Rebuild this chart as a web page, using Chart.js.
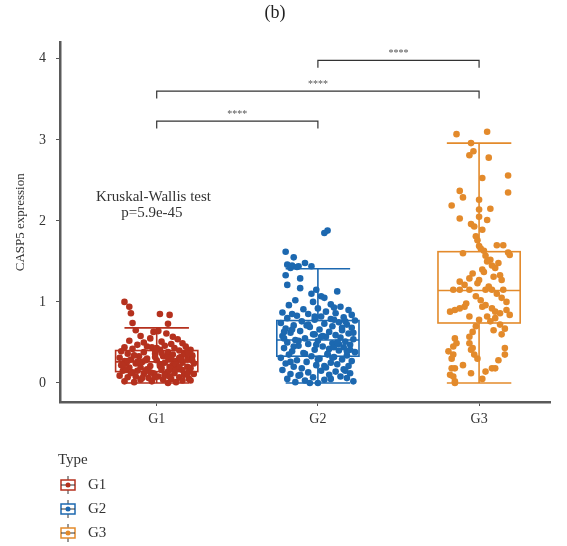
<!DOCTYPE html>
<html>
<head>
<meta charset="utf-8">
<script src="https://cdn.jsdelivr.net/npm/chart.js@4"></script>
<style>
  body { margin: 0; background: #fff; }
  #wrap { width: 567px; height: 546px; }
</style>
</head>
<body>
<div id="wrap"><canvas id="caspChart"></canvas></div>
<script>
var groups = ['G1', 'G2', 'G3'];
var groupColors = ['#B5311E', '#1C68B0', '#E38A2B'];

// box statistics per group
var boxLow = [0, 0, 0];
var boxQ1 = [0.14, 0.33, 0.74];
var boxMedian = [0.26, 0.53, 1.14];
var boxQ3 = [0.40, 0.77, 1.62];
var boxHigh = [0.68, 1.41, 2.96];

// pairwise comparisons
var compFrom = [1, 1, 2];
var compTo = [2, 3, 3];
var compY = [3.23, 3.60, 3.98];
var compLabel = ['****', '****', '****'];

var yTicks = [0, 1, 2, 3, 4];

// CASP5 expression per sample, with horizontal jitter
var g1Values = [1.00,0.94,0.86,0.85,0.84,0.74,0.73,0.65,0.63,0.64,
  0.61,0.58,0.57,0.55,0.54,0.52,0.51,0.50,0.49,0.48,
  0.47,0.46,0.45,0.44,0.44,0.43,0.42,0.41,0.41,0.40,
  0.39,0.38,0.38,0.37,0.36,0.36,0.35,0.34,0.33,0.33,
  0.32,0.31,0.30,0.30,0.29,0.29,0.28,0.27,0.27,0.26,
  0.25,0.25,0.24,0.24,0.23,0.22,0.22,0.21,0.20,0.20,
  0.19,0.19,0.18,0.18,0.17,0.16,0.16,0.15,0.15,0.14,
  0.14,0.13,0.12,0.12,0.11,0.11,0.10,0.10,0.09,0.08,
  0.08,0.07,0.07,0.06,0.05,0.05,0.04,0.04,0.03,0.02,
  0.02,0.01,0.01,0.00,0.35,0.28,0.21,0.31,0.26,0.18,
  0.13,0.09,0.24,0.33,0.40,0.17,0.06,0.29,0.22,0.37,
  0.43,0.39,0.34,0.31,0.27,0.23,0.19,0.15,0.11,0.07,
  0.03,0.45,0.36,0.25,0.16,0.08,0.32,0.20,0.12,0.28];
var g1Jitter = [-0.20,-0.17,-0.16,0.02,0.08,-0.15,0.07,-0.13,-0.02,0.01,
  0.06,-0.10,0.10,-0.04,0.13,-0.17,0.03,-0.08,0.16,0.09,
  -0.12,0.05,0.18,-0.20,-0.03,0.11,-0.15,0.02,0.21,0.14,
  -0.22,-0.08,0.07,0.17,-0.18,-0.01,0.10,0.22,-0.11,0.04,
  0.15,-0.23,-0.06,0.09,0.19,-0.16,0.00,0.12,-0.20,-0.09,
  0.05,0.16,0.23,-0.13,0.02,0.10,-0.22,-0.04,0.08,0.19,
  -0.17,-0.10,0.13,0.21,-0.06,0.03,0.16,-0.21,-0.12,0.07,
  0.20,-0.15,-0.02,0.11,0.23,-0.08,0.05,0.17,-0.23,-0.13,
  0.01,0.14,-0.18,-0.05,0.09,0.20,-0.10,0.04,0.16,-0.20,
  -0.03,0.12,-0.14,0.07,0.18,-0.07,0.02,0.14,-0.12,0.09,
  -0.04,0.05,-0.19,0.22,-0.01,0.12,-0.09,0.15,-0.21,0.03,
  0.00,0.19,-0.14,0.07,-0.18,0.12,0.03,-0.07,0.19,-0.01,
  0.21,-0.06,0.20,-0.11,-0.19,0.08,-0.01,0.14,-0.16,0.22];

var g2Values = [1.88,1.85,1.62,1.55,1.46,1.42,1.44,1.44,1.33,1.29,
  1.21,1.17,1.48,1.45,1.43,1.15,1.13,1.10,1.07,1.05,
  1.02,1.00,0.97,0.96,0.94,0.92,0.91,0.90,0.88,0.87,
  0.86,0.85,0.84,0.83,0.82,0.81,0.80,0.79,0.78,0.77,
  0.76,0.75,0.74,0.73,0.72,0.71,0.70,0.69,0.68,0.67,
  0.66,0.65,0.64,0.63,0.62,0.61,0.60,0.59,0.58,0.57,
  0.56,0.55,0.54,0.53,0.52,0.51,0.50,0.49,0.48,0.47,
  0.46,0.45,0.44,0.43,0.42,0.41,0.40,0.39,0.38,0.37,
  0.36,0.35,0.34,0.33,0.32,0.31,0.30,0.29,0.28,0.27,
  0.26,0.25,0.24,0.23,0.22,0.21,0.20,0.19,0.18,0.17,
  0.16,0.15,0.14,0.13,0.12,0.11,0.10,0.09,0.08,0.07,
  0.06,0.05,0.04,0.03,0.02,0.01,0.00,0.00,0.62,0.55,
  0.48,0.71,0.39,0.58,0.66,0.44,0.52,0.35,0.76,0.60,
  0.85,0.78,0.72,0.68,0.63,0.57,0.50,0.45,0.41,0.36,
  0.31,0.26,0.21,0.15,0.10,0.05,0.93,0.82,0.47,0.29];
var g2Jitter = [0.06,0.04,-0.20,-0.15,-0.19,-0.17,-0.12,-0.04,-0.20,-0.11,
  -0.19,-0.11,-0.08,-0.16,-0.13,-0.01,0.12,-0.04,0.02,0.04,
  -0.14,-0.03,0.08,-0.18,0.14,0.00,-0.09,0.19,0.05,-0.22,
  0.11,-0.06,0.21,-0.13,0.02,0.16,-0.19,0.08,-0.02,0.23,
  -0.10,0.13,-0.23,0.04,0.18,-0.15,0.09,-0.05,0.21,-0.20,
  0.01,0.15,-0.11,0.07,-0.17,0.19,-0.03,0.11,-0.22,0.05,
  0.14,-0.08,0.22,-0.14,0.00,0.17,-0.19,0.09,-0.06,0.20,
  -0.12,0.03,0.16,-0.21,0.07,-0.02,0.13,-0.16,0.23,-0.09,
  0.06,-0.18,0.18,-0.04,0.10,-0.23,0.01,0.15,-0.13,0.21,
  -0.07,0.08,-0.20,0.12,-0.01,0.19,-0.15,0.05,-0.10,0.16,
  -0.22,0.02,0.11,-0.06,0.20,-0.17,0.07,-0.12,0.14,-0.03,
  0.18,-0.19,0.04,-0.08,0.22,-0.14,0.00,-0.05,0.22,-0.21,
  0.13,-0.07,0.18,0.03,-0.16,0.10,-0.12,0.06,0.17,-0.02,
  -0.16,0.10,-0.06,0.15,-0.21,0.02,0.12,-0.15,0.20,-0.08,
  0.09,-0.17,0.04,0.17,-0.11,0.08,0.10,-0.02,-0.01,0.00];

var g3Values = [3.07,3.10,2.96,2.86,2.81,2.78,2.53,2.56,2.37,2.29,
  2.35,2.26,2.19,2.14,2.15,2.05,2.03,2.01,1.96,1.93,
  1.89,1.81,1.76,1.70,1.70,1.69,1.61,1.58,1.60,1.63,
  1.57,1.66,1.52,1.48,1.42,1.37,1.35,1.29,1.27,1.33,
  1.27,1.25,1.21,1.23,1.15,1.15,1.15,1.15,1.15,1.15,
  1.07,1.02,0.94,0.96,0.92,0.88,0.86,0.90,0.84,0.88,
  0.90,0.92,0.94,0.82,0.78,0.82,0.76,0.80,0.72,0.67,
  0.63,0.57,0.55,0.49,0.45,0.49,0.41,0.39,0.35,0.30,
  0.43,0.35,0.30,0.43,0.35,0.18,0.18,0.10,0.08,0.02,
  0.12,0.14,0.18,0.18,0.00,1.40,1.45,1.50,1.31,1.19,
  1.10,1.05,0.98,1.00,0.70,0.65,0.60,0.28,0.22,0.05];
var g3Jitter = [-0.14,0.05,-0.05,-0.035,-0.06,0.06,0.02,0.18,-0.12,-0.10,
  0.18,0.00,-0.17,0.00,0.07,0.00,-0.12,0.05,-0.05,-0.03,
  0.02,-0.02,-0.01,0.11,0.15,0.00,0.18,0.19,-0.10,0.03,
  0.04,0.01,0.07,0.12,0.10,0.03,-0.04,-0.06,0.00,0.13,
  0.14,-0.12,-0.09,-0.01,-0.16,-0.12,-0.06,0.04,0.08,0.15,
  -0.02,0.01,0.02,0.04,0.08,0.10,0.13,0.17,0.19,-0.18,
  -0.15,-0.12,-0.09,-0.06,0.00,0.05,0.07,0.10,0.13,0.16,
  -0.04,-0.06,-0.15,-0.14,-0.16,-0.06,-0.05,-0.19,-0.16,-0.17,
  -0.04,-0.03,-0.01,0.16,0.16,-0.17,-0.15,-0.18,-0.16,-0.15,
  -0.05,0.04,0.08,0.10,-0.15,0.02,0.08,0.05,0.09,0.06,
  0.11,0.14,-0.08,0.17,-0.02,0.09,0.14,0.12,-0.10,0.02];

var serif = "'Liberation Serif', 'DejaVu Serif', serif";

function toPoints(values, jitter, pos) {
  return values.map(function (v, i) { return { x: pos + jitter[i], y: v }; });
}

// boxes and whiskers behind the points
var boxPlugin = {
  id: 'boxes',
  beforeDatasetsDraw: function (chart) {
    var c = chart.ctx, xs = chart.scales.x, ys = chart.scales.y;
    c.save();
    c.lineWidth = 1.6;
    groups.forEach(function (g, i) {
      var pos = i + 1;
      var cx = xs.getPixelForValue(pos);
      var bl = xs.getPixelForValue(pos - 0.255), br = xs.getPixelForValue(pos + 0.255);
      var cl = xs.getPixelForValue(pos - 0.2), cr = xs.getPixelForValue(pos + 0.2);
      var yLo = ys.getPixelForValue(boxLow[i]), yQ1 = ys.getPixelForValue(boxQ1[i]);
      var yMed = ys.getPixelForValue(boxMedian[i]), yQ3 = ys.getPixelForValue(boxQ3[i]);
      var yHi = ys.getPixelForValue(boxHigh[i]);
      c.strokeStyle = groupColors[i];
      c.beginPath();
      c.moveTo(cx, yQ3); c.lineTo(cx, yHi);
      c.moveTo(cl, yHi); c.lineTo(cr, yHi);
      c.moveTo(cx, yQ1); c.lineTo(cx, yLo);
      c.moveTo(cl, yLo); c.lineTo(cr, yLo);
      c.moveTo(bl, yMed); c.lineTo(br, yMed);
      c.stroke();
      c.strokeRect(bl, yQ3, br - bl, yQ1 - yQ3);
    });
    c.restore();
  }
};

// significance brackets, test note and legend
var notesPlugin = {
  id: 'notes',
  afterDatasetsDraw: function (chart) {
    var c = chart.ctx, xs = chart.scales.x, ys = chart.scales.y;
    c.save();
    c.strokeStyle = '#333';
    c.lineWidth = 1.2;
    compFrom.forEach(function (f, i) {
      var x1 = xs.getPixelForValue(f), x2 = xs.getPixelForValue(compTo[i]);
      var yb = ys.getPixelForValue(compY[i]), yt = ys.getPixelForValue(compY[i] - 0.09);
      c.beginPath();
      c.moveTo(x1, yt); c.lineTo(x1, yb); c.lineTo(x2, yb); c.lineTo(x2, yt);
      c.stroke();
      c.fillStyle = '#555';
      c.font = '10px ' + serif;
      c.textAlign = 'center';
      c.textBaseline = 'bottom';
      c.fillText(compLabel[i], (x1 + x2) / 2, yb - 2);
    });

    c.fillStyle = '#333';
    c.font = '15px ' + serif;
    c.textAlign = 'center';
    c.textBaseline = 'middle';
    c.fillText('Kruskal-Wallis test', xs.getPixelForValue(0.98), ys.getPixelForValue(2.30));
    c.fillText('p=5.9e-45', xs.getPixelForValue(0.97), ys.getPixelForValue(2.10));
    c.restore();
  },
  afterDraw: function (chart) {
    var c = chart.ctx;
    c.save();
    c.fillStyle = '#333';
    c.font = '15px ' + serif;
    c.textAlign = 'left';
    c.textBaseline = 'middle';
    c.fillText('Type', 58, 460);
    groups.forEach(function (g, i) {
      var cy = 485 + i * 24, cx = 68;
      c.strokeStyle = '#333';
      c.lineWidth = 1;
      c.beginPath();
      c.moveTo(cx, cy - 9); c.lineTo(cx, cy + 9);
      c.stroke();
      c.fillStyle = '#fff';
      c.fillRect(cx - 7, cy - 5, 14, 10);
      c.strokeStyle = groupColors[i];
      c.lineWidth = 1.5;
      c.strokeRect(cx - 7, cy - 5, 14, 10);
      c.strokeStyle = '#333';
      c.lineWidth = 1;
      c.beginPath();
      c.moveTo(cx - 7, cy); c.lineTo(cx + 7, cy);
      c.stroke();
      c.fillStyle = groupColors[i];
      c.beginPath();
      c.arc(cx, cy, 2.5, 0, Math.PI * 2);
      c.fill();
      c.fillStyle = '#333';
      c.font = '15px ' + serif;
      c.fillText(g, 88, cy);
    });
    c.restore();
  }
};

var datasets = [
  { label: 'G1', data: toPoints(g1Values, g1Jitter, 1), backgroundColor: groupColors[0] },
  { label: 'G2', data: toPoints(g2Values, g2Jitter, 2), backgroundColor: groupColors[1] },
  { label: 'G3', data: toPoints(g3Values, g3Jitter, 3), backgroundColor: groupColors[2] }
].map(function (d) {
  d.pointRadius = 3.3;
  d.borderWidth = 0;
  d.pointHoverRadius = 3.3;
  return d;
});

var ctx = document.getElementById('caspChart').getContext('2d');
var caspChart = new Chart(ctx, {
  type: 'scatter',
  data: { datasets: datasets },
  plugins: [boxPlugin, notesPlugin],
  options: {
    responsive: true,
    maintainAspectRatio: false,
    animation: false,
    layout: { padding: { top: 0, right: 17, bottom: 116, left: 0 } },
    plugins: {
      legend: { display: false },
      tooltip: { enabled: false },
      title: {
        display: true,
        text: '(b)',
        color: '#222',
        font: { family: serif, size: 18, weight: 'normal' },
        padding: { top: 2, bottom: 19 }
      }
    },
    scales: {
      x: {
        type: 'linear',
        min: 0.4,
        max: 3.44,
        afterBuildTicks: function (scale) {
          scale.ticks = groups.map(function (g, i) { return { value: i + 1 }; });
        },
        afterFit: function (scale) { scale.height = 28; },
        ticks: {
          color: '#333',
          font: { family: serif, size: 14 },
          padding: 5,
          callback: function (v) { return groups[v - 1]; }
        },
        grid: { drawOnChartArea: false, drawTicks: true, tickLength: 4, color: '#555' },
        border: { display: true, color: '#5a5a5a', width: 2.5 }
      },
      y: {
        min: -0.235,
        max: 4.2,
        afterBuildTicks: function (scale) {
          scale.ticks = yTicks.map(function (v) { return { value: v }; });
        },
        afterFit: function (scale) { scale.width = 60; },
        ticks: {
          color: '#333',
          font: { family: serif, size: 14 },
          padding: 10
        },
        title: {
          display: true,
          text: 'CASP5 expression',
          color: '#333',
          font: { family: serif, size: 13 },
          padding: { top: 13, bottom: 0 }
        },
        grid: { drawOnChartArea: false, drawTicks: true, tickLength: 4, color: '#555' },
        border: { display: true, color: '#5a5a5a', width: 2.5 }
      }
    }
  }
});
</script>
</body>
</html>
